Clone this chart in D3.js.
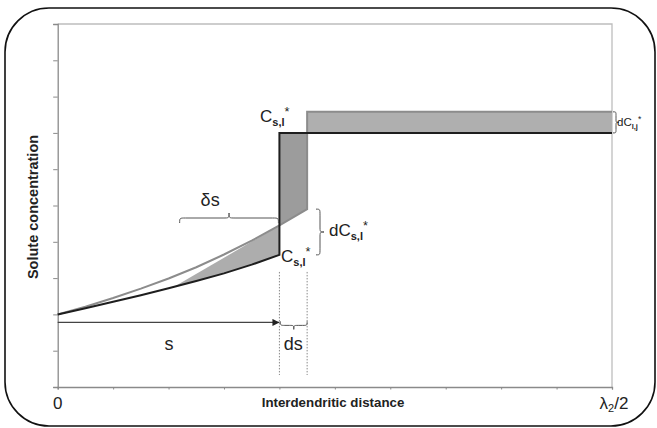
<!DOCTYPE html>
<html><head><meta charset="utf-8">
<script src="https://cdn.jsdelivr.net/npm/d3@7"></script>
<style>body{margin:0;background:#fff}svg{display:block}text{font-family:"Liberation Sans",Arial,sans-serif}</style>
</head><body>
<script>
// ---- data ----
const xTickValues = [0,1,2,3,4,5,6,7,8,9,10];
const yTickValues = [0,1,2,3,4,5,6,7,8,9,10];
const xTickLabels = ["0", "λ2/2"];
// solid concentration at time t (black) and t+dt (gray)
const solidX   = [0,0.5,1,1.5,2,2.5,3,3.5,4];
const solidY   = [2.0,2.17,2.35,2.53,2.72,2.92,3.13,3.37,3.64];
const solid2X  = [0,0.5,1,1.5,2,2.5,3,3.5,4,4.5];
const solid2Y  = [2.0,2.21,2.45,2.71,2.99,3.30,3.65,4.03,4.45,4.90];
const interfaceS = [4, 4.5];        // s, s+ds
const liquidC = [7.0, 7.58];        // Cl,j* before / after
const backDiffStart = 2.1;          // start of δs zone
const arrowLevel = 1.78;
const dashedRange = [0.33, 3.17];

const W = 657, H = 428;
const svg = d3.select("body").append("svg").attr("width", W).attr("height", H);
const x = d3.scaleLinear().domain([0,10]).range([57.7,612]);
const y = d3.scaleLinear().domain([0,10]).range([387,24]);

// outer rounded frame
svg.append("rect").attr("x",5).attr("y",8).attr("width",650).attr("height",418)
  .attr("rx",44).attr("ry",44).attr("fill","#fff").attr("stroke","#111").attr("stroke-width",1.6);

// plot frame (top/right light)
svg.append("path").attr("d",`M${x(0)},${y(10)}H${x(10)}V${y(0)}`).attr("fill","none").attr("stroke","#bdbdbd").attr("stroke-width",1.3);

// axes
const yAxis = d3.axisLeft(y).tickValues(yTickValues).tickSize(4.5).tickFormat("");
const gy = svg.append("g").attr("transform",`translate(${x(0)},0)`).call(yAxis);
const xAxis = d3.axisBottom(x).tickValues(xTickValues).tickSize(2.5).tickFormat("");
const gx = svg.append("g").attr("transform",`translate(0,${y(0)})`).call(xAxis);
[gx,gy].forEach(g=>{g.selectAll("path").attr("stroke","#8a8a8a").attr("stroke-width",1.3);g.selectAll("line").attr("stroke","#8a8a8a");});

const line = d3.line().x(d=>x(d[0])).y(d=>y(d[1]));
const solid = solidX.map((v,i)=>[v,solidY[i]]);
const solid2 = solid2X.map((v,i)=>[v,solid2Y[i]]);
const s0 = interfaceS[0], s1 = interfaceS[1];
const interp = (xs,ys,v)=>{for(let i=1;i<xs.length;i++){if(v<=xs[i]){const t=(v-xs[i-1])/(xs[i]-xs[i-1]);return ys[i-1]+t*(ys[i]-ys[i-1]);}}return ys[ys.length-1];};
const c2AtS0 = interp(solid2X,solid2Y,s0);
const c2AtS1 = interp(solid2X,solid2Y,s1);

// light triangle (back diffusion zone)
const tri = [[backDiffStart, interp(solidX,solidY,backDiffStart)], ...solid.filter(d=>d[0]>backDiffStart), [s0,c2AtS0]];
svg.append("path").attr("d", line(tri)+"Z").attr("fill","#adadad");
// dark vertical block
const blk = [[s0,c2AtS0],...solid2.filter(d=>d[0]>s0),[s1,liquidC[0]],[s0,liquidC[0]]];
svg.append("path").attr("d", line(blk)+"Z").attr("fill","#9c9c9c");
// horizontal bar
svg.append("path").attr("d", line([[s1,liquidC[0]],[10,liquidC[0]],[10,liquidC[1]],[s1,liquidC[1]]])+"Z").attr("fill","#afafaf");

// gray outline (t+dt)
svg.append("path").attr("d", line([...solid2,[s1,liquidC[1]],[10,liquidC[1]]]))
  .attr("fill","none").attr("stroke","#8c8c8c").attr("stroke-width",2);
// black outline (t)
svg.append("path").attr("d", line([...solid,[s0,liquidC[0]],[10,liquidC[0]]]))
  .attr("fill","none").attr("stroke","#1e1e1e").attr("stroke-width",2);

// dashed verticals
interfaceS.forEach(v=>{
  svg.append("line").attr("x1",x(v)).attr("x2",x(v)).attr("y1",y(dashedRange[1])).attr("y2",y(dashedRange[0]))
    .attr("stroke","#8a8a8a").attr("stroke-width",1).attr("stroke-dasharray","1.5,1.5");
});
// arrow s
svg.append("defs").append("marker").attr("id","ah").attr("viewBox","0 0 10 10").attr("refX",10).attr("refY",5)
  .attr("markerWidth",9).attr("markerHeight",7).attr("markerUnits","userSpaceOnUse").attr("orient","auto")
  .append("path").attr("d","M0,0L10,5L0,10Z").attr("fill","#222");
svg.append("line").attr("x1",x(0)).attr("x2",x(s0)).attr("y1",y(arrowLevel)).attr("y2",y(arrowLevel))
  .attr("stroke","#444").attr("stroke-width",1.2).attr("marker-end","url(#ah)");

// braces
function hBrace(x1,x2,y0,h){const m=(x1+x2)/2,q=h/2,r=Math.min(6,(x2-x1)/6);
  return `M${x1},${y0}C${x1},${y0-q} ${x1},${y0-q} ${x1+r},${y0-q}L${m-r},${y0-q}C${m},${y0-q} ${m},${y0-q} ${m},${y0-h}C${m},${y0-q} ${m},${y0-q} ${m+r},${y0-q}L${x2-r},${y0-q}C${x2},${y0-q} ${x2},${y0-q} ${x2},${y0}`;}
function vBrace(y1,y2,x0,h){const m=(y1+y2)/2,q=h/2,r=Math.min(6,(y2-y1)/6);
  return `M${x0},${y1}C${x0+q},${y1} ${x0+q},${y1} ${x0+q},${y1+r}L${x0+q},${m-r}C${x0+q},${m} ${x0+q},${m} ${x0+h},${m}C${x0+q},${m} ${x0+q},${m} ${x0+q},${m+r}L${x0+q},${y2-r}C${x0+q},${y2} ${x0+q},${y2} ${x0},${y2}`;}
const brace = d=>svg.append("path").attr("d",d).attr("fill","none").attr("stroke","#555").attr("stroke-width",1);
brace(hBrace(x(2.2), x(s0)-1, 223, 10));
brace(hBrace(x(s0)+1, x(s1), y(arrowLevel)-1, -8));
brace(vBrace(y(c2AtS1), y(interp(solidX,solidY,s0)), 316, 8));
brace(vBrace(y(liquidC[1]), y(liquidC[0]), 613, 6));

// labels
function subLabel(px,py,main,sub,big,small){
  const t = svg.append("text").attr("x",px).attr("y",py).attr("fill","#222");
  t.append("tspan").attr("font-size",big).text(main);
  t.append("tspan").attr("font-size",small).attr("font-weight","bold").attr("dy",big*0.25).text(sub);
  t.append("tspan").attr("font-size",small*1.15).attr("dy",-big*0.62).text("*");
}
subLabel(260,122,"C","s,l",17,11);
subLabel(281,262,"C","s,l",17,11);
subLabel(329,236,"dC","s,l",17,11);
subLabel(617,126,"dC","l,j",11.5,7.5);

svg.append("text").attr("x",x(2.75)).attr("y",206).attr("text-anchor","middle").attr("font-size",18).attr("fill","#222").text("δs");
svg.append("text").attr("x",169).attr("y",350).attr("text-anchor","middle").attr("font-size",18).attr("fill","#222").text("s");
svg.append("text").attr("x",(x(s0)+x(s1))/2).attr("y",350).attr("text-anchor","middle").attr("font-size",18).attr("fill","#222").text("ds");

// tick labels
svg.append("text").attr("x",x(0)).attr("y",409).attr("text-anchor","middle").attr("font-size",17).attr("fill","#222").text(xTickLabels[0]);
const lt = svg.append("text").attr("x",x(10)+2).attr("y",409).attr("text-anchor","middle").attr("font-size",17).attr("fill","#222");
lt.append("tspan").text(xTickLabels[1].charAt(0));
lt.append("tspan").attr("font-size",11).attr("dy",3).text(xTickLabels[1].charAt(1));
lt.append("tspan").attr("dy",-3).text(xTickLabels[1].slice(2));

// axis titles
svg.append("text").attr("x",333).attr("y",407).attr("text-anchor","middle").attr("font-size",13.3).attr("font-weight","bold").attr("fill","#222").text("Interdendritic distance");
svg.append("text").attr("transform",`translate(38,207) rotate(-90)`).attr("text-anchor","middle").attr("font-size",14.5).attr("font-weight","bold").attr("fill","#222").text("Solute concentration");
</script>
</body></html>
